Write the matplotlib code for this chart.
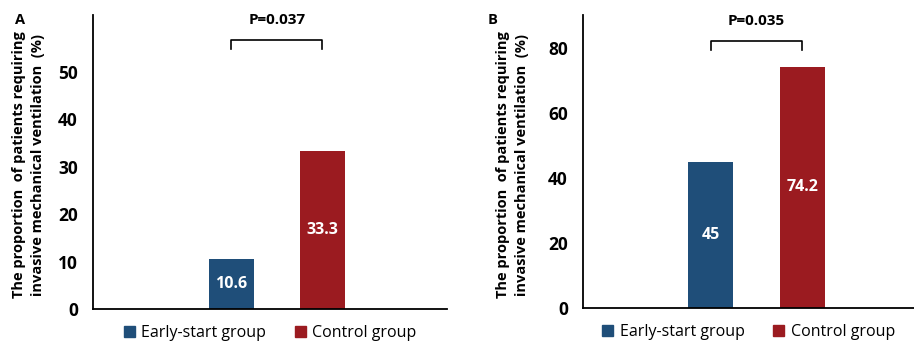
import matplotlib.pyplot as plt
from matplotlib.patches import Patch

plt.rcParams['font.family'] = ['Open Sans', 'DejaVu Sans']

groups = ['Early-start group', 'Control group']
colors = ['#1f4e79', '#9b1b20']

# panel A / panel B values (%)
values_a = [10.6, 33.3]
values_b = [45, 74.2]
labels_a = ['10.6', '33.3']
labels_b = ['45', '74.2']
p_a = 'P=0.037'
p_b = 'P=0.035'
ticks_a = [0, 10, 20, 30, 40, 50]
ticks_b = [0, 20, 40, 60, 80]

ylabel = 'The proportion  of patients requiring\ninvasive mechanical ventilation  (%)'

fig = plt.figure(figsize=(9.14, 3.45), dpi=100)
axA = fig.add_axes([0.1018, 0.1043, 0.3873, 0.852])
axB = fig.add_axes([0.638, 0.107, 0.362, 0.849])


def draw_panel(ax, vals, labs, ticks, ylim, xlim, ptxt, br_top, br_drop,
               letter, letter_x, lab_x):
    x = [0, 1]
    ax.bar(x, vals, width=0.49, color=colors, zorder=2)
    for xi, v, l in zip(x, vals, labs):
        ax.text(xi, v / 2, l, ha='center', va='center', color='white',
                fontsize=11.5, fontweight='bold')
    ax.set_xlim(*xlim)
    ax.set_ylim(*ylim)
    ax.set_yticks(ticks)
    ax.set_yticklabels([str(t) for t in ticks], fontsize=12.5, fontweight='bold')
    ax.set_xticks([])
    ax.tick_params(axis='y', length=0, pad=11)
    for s in ['top', 'right']:
        ax.spines[s].set_visible(False)
    ax.spines['left'].set_linewidth(1.3)
    ax.spines['bottom'].set_linewidth(1.3)
    # significance bracket
    ax.plot([0, 0, 1, 1], [br_top - br_drop, br_top, br_top, br_top - br_drop],
            color='black', lw=1.2, clip_on=False)
    ax.text(0.5, br_top + (ylim[1] - ylim[0]) * 0.068, ptxt, ha='center', va='center',
            fontsize=11, fontweight='bold')
    ax.set_ylabel(ylabel, fontsize=10.5, fontweight='bold', va='center',
                  linespacing=1.5)
    ax.yaxis.set_label_coords(lab_x, 0.49)
    ax.text(letter_x, 0.982, letter, transform=ax.transAxes, ha='center',
            va='center', fontsize=10.5, fontweight='bold')
    handles = [Patch(color=c, label=g) for c, g in zip(colors, groups)]
    ax.legend(handles=handles, loc='center', bbox_to_anchor=(0.5, -0.083),
              ncol=2, frameon=False, fontsize=11.5, handlelength=0.7,
              handleheight=0.7, handletextpad=0.4, columnspacing=1.8)


draw_panel(axA, values_a, labels_a, ticks_a, (0, 62), (-1.52, 2.37),
           p_a, 56.7, 1.9, 'A', -0.205, -0.183)
draw_panel(axB, values_b, labels_b, ticks_b, (0, 90), (-1.39, 2.22),
           p_b, 82.2, 2.8, 'B', -0.275, -0.213)

fig.savefig('out.png', dpi=100)
